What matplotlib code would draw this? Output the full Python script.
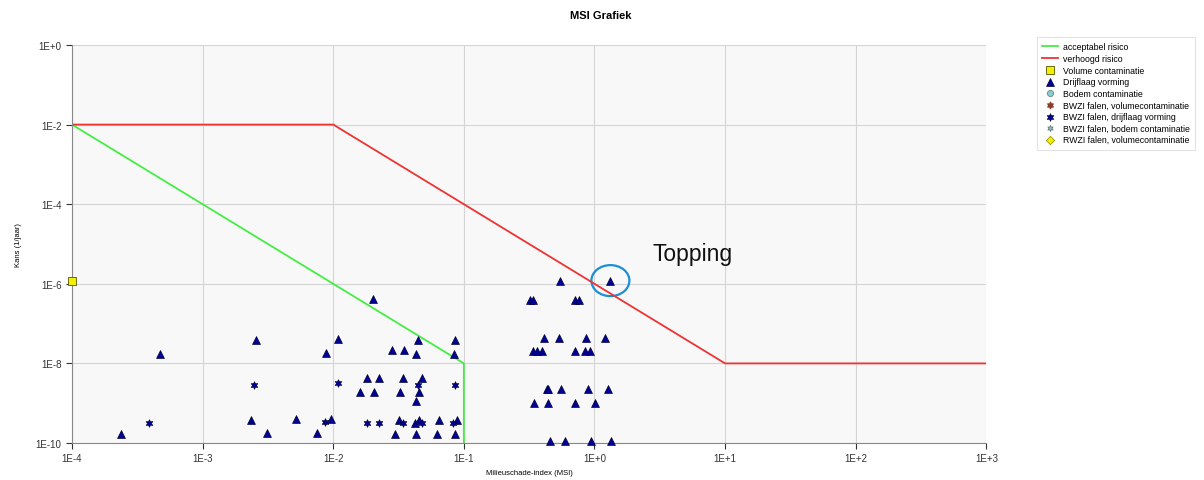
import numpy as np
import matplotlib.pyplot as plt
from matplotlib.patches import Ellipse
from matplotlib.transforms import ScaledTranslation

# grenslijnen (MSI, kans)
acc_x = [1e-4, 1e-1, 1e-1]
acc_y = [1e-2, 1e-8, 1e-10]
verh_x = [1e-4, 1e-2, 1e1, 1e3]
verh_y = [1e-2, 1e-2, 1e-8, 1e-8]

# Volume contaminatie
vol_x = [1e-4]
vol_y = [1.2e-6]

# Drijflaag vorming (log10 waarden)
drijf_lx = [-3.625, -3.326, -2.591, -2.632, -2.507, -2.285, -2.124, -2.057, -2.015, -1.963,
            -1.698, -1.741, -1.647, -1.792, -1.690, -1.550, -1.456, -1.463, -1.491, -1.524,
            -1.500, -1.368, -1.349, -1.320, -1.343, -1.363, -1.343, -1.376, -1.366, -1.190,
            -1.205, -1.065, -1.075, -1.055, -1.065,
            -0.261, 0.122, -0.493, -0.468, -0.149, -0.120, -0.386, -0.273, -0.067, 0.084,
            -0.468, -0.437, -0.404, -0.146, -0.070, -0.034, -0.365, -0.355, -0.253, -0.047,
            0.107, -0.465, -0.353, -0.146, 0.005, -0.342, -0.227, -0.024, 0.130]
drijf_ly = [-9.78, -7.77, -7.42, -9.43, -9.75, -9.40, -9.75, -7.74, -9.40, -7.39,
            -6.38, -8.37, -8.37, -8.73, -8.73, -7.67, -7.67, -8.37, -8.73, -9.77,
            -9.43, -7.76, -7.40, -8.37, -8.73, -8.95, -9.43, -9.49, -9.77, -9.43,
            -9.77, -7.40, -7.76, -9.43, -9.77,
            -5.93, -5.93, -6.41, -6.41, -6.41, -6.41, -7.37, -7.37, -7.37, -7.37,
            -7.70, -7.70, -7.70, -7.70, -7.70, -7.70, -8.64, -8.64, -8.64, -8.64,
            -8.64, -8.99, -8.99, -8.99, -8.99, -9.94, -9.94, -9.94, -9.94]

# BWZI falen, drijflaag vorming (log10 waarden)
bwzi_lx = [-3.41, -2.604, -2.06, -1.966, -1.741, -1.647, -1.463, -1.350, -1.320, -1.065, -1.080]
bwzi_ly = [-9.49, -8.535, -9.46, -8.50, -9.49, -9.49, -9.49, -8.535, -9.49, -8.535, -9.49]

# lege reeksen (alleen legenda)
bodem_x, bodem_y = [], []
bwzi_vol_x, bwzi_vol_y = [], []
bwzi_bod_x, bwzi_bod_y = [], []
rwzi_x, rwzi_y = [], []

xticks = [1e-4, 1e-3, 1e-2, 1e-1, 1e0, 1e1, 1e2, 1e3]
xlabels = ['1E-4', '1E-3', '1E-2', '1E-1', '1E+0', '1E+1', '1E+2', '1E+3']
yticks = [1e-10, 1e-8, 1e-6, 1e-4, 1e-2, 1e0]
ylabels = ['1E-10', '1E-8', '1E-6', '1E-4', '1E-2', '1E+0']

plt.rcParams['font.family'] = ['Liberation Sans', 'DejaVu Sans']

fig = plt.figure(figsize=(12.04, 4.81), dpi=100)
ax = fig.add_axes([0.0598, 0.0769, 0.7594, 0.8275])
ax.set_facecolor('#f8f8f8')

ax.plot(acc_x, acc_y, color='#44ee44', lw=1.3, label='acceptabel risico')
ax.plot(verh_x, verh_y, color='#ee3333', lw=1.3, label='verhoogd risico')
ax.scatter(vol_x, vol_y, marker='s', s=30, color='#f2f000', edgecolors='#555500',
           linewidths=0.6, label='Volume contaminatie', zorder=5, clip_on=False)
ax.scatter(10 ** np.array(drijf_lx), 10 ** np.array(drijf_ly), marker='^', s=32,
           color='#000099', edgecolors='#000033', linewidths=0.5,
           label='Drijflaag vorming', zorder=5, clip_on=False)
ax.scatter(bodem_x, bodem_y, marker='o', s=20, color='#88cccc', edgecolors='#557777',
           linewidths=0.5, label='Bodem contaminatie')
ax.scatter(bwzi_vol_x, bwzi_vol_y, marker=(6, 1, 0), s=20, color='#8b3a2a',
           label='BWZI falen, volumecontaminatie')
ax.scatter(10 ** np.array(bwzi_lx), 10 ** np.array(bwzi_ly), marker=(6, 1, 0), s=30,
           color='#000099', edgecolors='#000033', linewidths=0.5,
           label='BWZI falen, drijflaag vorming', zorder=5)
ax.scatter(bwzi_bod_x, bwzi_bod_y, marker=(6, 1, 0), s=20, color='#99b5b5',
           edgecolors='#557777', linewidths=0.5, label='BWZI falen, bodem contaminatie')
ax.scatter(rwzi_x, rwzi_y, marker='D', s=18, color='#f2f000', edgecolors='#888800',
           linewidths=0.5, label='RWZI falen, volumecontaminatie')

ax.set_xscale('log')
ax.set_yscale('log')
ax.set_xlim(1e-4, 1e3)
ax.set_ylim(1e-10, 1e0)
ax.set_xticks(xticks)
ax.set_xticklabels(xlabels)
ax.set_yticks(yticks)
ax.set_yticklabels(ylabels)
ax.minorticks_off()
ax.tick_params(labelsize=7, colors='#333333', length=4, width=0.8)
ax.grid(True, color='#d4d4d4', lw=0.8)
ax.set_axisbelow(True)
for side in ['top', 'right']:
    ax.spines[side].set_visible(False)
for side in ['left', 'bottom']:
    ax.spines[side].set_color('#888888')

ax.set_xlabel('Milieuschade-index (MSI)', fontsize=5.5, labelpad=4)
ax.set_ylabel('Kans (1/jaar)', fontsize=5.5, labelpad=10)

fig.text(0.499, 0.966, 'MSI Grafiek', ha='center', va='center', fontsize=8, fontweight='bold')

# markering Topping (ellips in inches rond het punt)
trans = fig.dpi_scale_trans + ScaledTranslation(10 ** 0.122, 10 ** -5.92, ax.transData)
topping = Ellipse((0, 0), 0.38, 0.31, fill=False, edgecolor='#1a8fd8', lw=1.6, transform=trans)
ax.add_patch(topping)
ax.text(10 ** 0.441, 10 ** -5.25, 'Topping', fontsize=16.5, color='#111111', ha='left', va='center')

leg = ax.legend(loc='upper left', bbox_to_anchor=(1.055, 1.02), borderaxespad=0,
                fontsize=6.3, frameon=True, fancybox=False, edgecolor='#dddddd',
                handlelength=1.8, handletextpad=0.6, labelspacing=0.3,
                borderpad=0.6, scatterpoints=1)
leg.get_frame().set_linewidth(0.8)

plt.savefig('out.png', dpi=100)
